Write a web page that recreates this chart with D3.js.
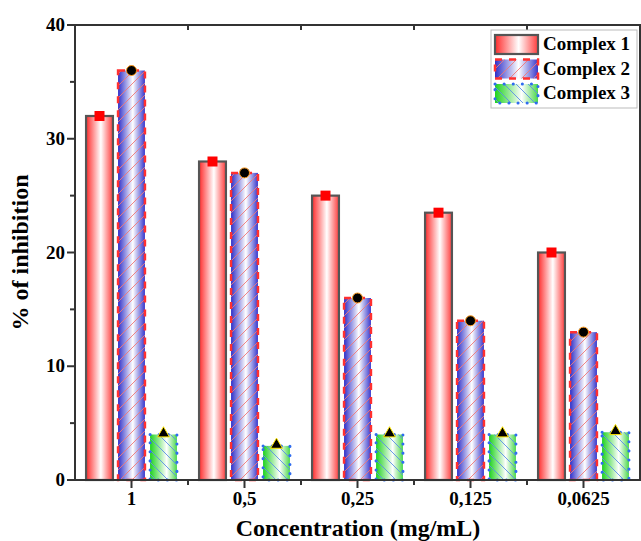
<!DOCTYPE html>
<html lang="en">
<head>
<meta charset="utf-8">
<script src="https://cdn.jsdelivr.net/npm/d3@7"></script>
<style>
  body { margin: 0; background: white; }
  svg { font-family: 'Liberation Serif', 'DejaVu Serif', serif; font-weight: bold; }
  .tick-label { font-size: 19px; }
  .axis-title { font-size: 24px; }
  .legend text { font-size: 19px; }
</style>
</head>
<body>
<svg width="641" height="541"></svg>
<script>
// data
var concentrations = ["1", "0,5", "0,25", "0,125", "0,0625"];
var seriesNames = ["Complex 1", "Complex 2", "Complex 3"];
var complex1 = [32, 28, 25, 23.5, 20];
var complex2 = [36, 27, 16, 14, 13];
var complex3 = [4, 3, 4, 4, 4.2];
var yTicks = [0, 10, 20, 30, 40];
var yMinor = [5, 15, 25, 35];

var values = [complex1, complex2, complex3];

var svg = d3.select("svg");
var mLeft = 75, mRight = 640, mTop = 25, mBottom = 480;

var x = d3.scaleBand().domain(concentrations).range([mLeft, mRight]).padding(0);
var xs = d3.scaleBand().domain(seriesNames).range([-48, 48]).paddingInner(0.16).paddingOuter(0.08);
var y = d3.scaleLinear().domain([0, 40]).range([mBottom, mTop]);

var defs = svg.append("defs");

function grad(id, stops) {
  var g = defs.append("linearGradient").attr("id", id)
    .attr("x1", "0%").attr("x2", "100%").attr("y1", "0%").attr("y2", "0%");
  stops.forEach(function(s) {
    g.append("stop").attr("offset", s[0]).attr("stop-color", s[1]);
  });
}
grad("g1", [["0%", "#ff2a2a"], ["55%", "#ffffff"], ["100%", "#ff3c3c"]]);
grad("g2", [["0%", "#2f2fc8"], ["55%", "#ffffff"], ["100%", "#3838cc"]]);
grad("g3", [["0%", "#1ed21e"], ["62%", "#ffffff"], ["100%", "#4ad84a"]]);

function hatch(id, color, dir) {
  var p = defs.append("pattern").attr("id", id)
    .attr("patternUnits", "userSpaceOnUse").attr("width", 12).attr("height", 12);
  if (dir > 0) {
    p.append("path").attr("d", "M0,12 L12,0 M-3,3 L3,-3 M9,15 L15,9");
  } else {
    p.append("path").attr("d", "M0,0 L12,12 M-3,9 L3,15 M9,-3 L15,3");
  }
  p.select("path").attr("stroke", color).attr("stroke-width", 0.9).attr("fill", "none");
}
hatch("h2", "#f07878", 1);
hatch("h3", "#5b8ee8", -1);

var fills = ["url(#g1)", "url(#g2)", "url(#g3)"];
var hatches = [null, "url(#h2)", "url(#h3)"];

function styleOutline(sel, si) {
  if (si === 0) sel.attr("stroke", "#555").attr("stroke-width", 2.2);
  if (si === 1) sel.attr("stroke", "#ff3030").attr("stroke-width", 2.5).attr("stroke-dasharray", "7,7");
  if (si === 2) sel.attr("stroke", "#2f6cf0").attr("stroke-width", 3)
    .attr("stroke-dasharray", "0.1,9").attr("stroke-linecap", "round");
}

// bars
seriesNames.forEach(function(name, si) {
  var g = svg.append("g");
  var data = concentrations.map(function(c, i) { return { c: c, v: values[si][i] }; });
  var bx = function(d) { return x(d.c) + x.bandwidth() / 2 + xs(name); };
  var layers = [fills[si]];
  if (hatches[si]) layers.push(hatches[si]);
  layers.push("none");
  layers.forEach(function(f, li) {
    var r = g.append("g").selectAll("rect").data(data).enter().append("rect")
      .attr("x", bx).attr("y", function(d) { return y(d.v); })
      .attr("width", xs.bandwidth()).attr("height", function(d) { return y(0) - y(d.v); })
      .attr("fill", f);
    if (li === layers.length - 1) styleOutline(r, si);
  });
});

// markers on top of bars
var cx = function(name) { return function(d, i) { return x(concentrations[i]) + x.bandwidth() / 2 + xs(name) + xs.bandwidth() / 2; }; };
svg.append("g").selectAll("rect").data(complex1).enter().append("rect")
  .attr("x", function(d, i) { return cx("Complex 1")(d, i) - 5; })
  .attr("y", function(d) { return y(d) - 5; })
  .attr("width", 10).attr("height", 10).attr("fill", "#ff0000");
svg.append("g").selectAll("circle").data(complex2).enter().append("circle")
  .attr("cx", cx("Complex 2")).attr("cy", function(d) { return y(d); })
  .attr("r", 5).attr("fill", "#000").attr("stroke", "#ff9a1a").attr("stroke-width", 1);
svg.append("g").selectAll("path").data(complex3).enter().append("path")
  .attr("transform", function(d, i) { return "translate(" + cx("Complex 3")(d, i) + "," + (y(d) - 1) + ")"; })
  .attr("d", d3.symbol(d3.symbolTriangle, 60))
  .attr("fill", "#000").attr("stroke", "#ffe600").attr("stroke-width", 1);

// frame + axes
var axisColor = "#333";
[[mLeft, mTop, mRight, mTop], [mLeft, mBottom, mRight, mBottom],
 [mLeft, mTop, mLeft, mBottom], [mRight, mTop, mRight, mBottom]].forEach(function(l) {
  svg.append("line").attr("x1", l[0]).attr("y1", l[1]).attr("x2", l[2]).attr("y2", l[3])
    .attr("stroke", axisColor).attr("stroke-width", 2).attr("stroke-linecap", "square");
});

// y ticks
svg.append("g").selectAll("line").data(yTicks).enter().append("line")
  .attr("x1", mLeft - 8).attr("x2", mLeft).attr("y1", y).attr("y2", y)
  .attr("stroke", axisColor).attr("stroke-width", 2);
svg.append("g").selectAll("line").data(yMinor).enter().append("line")
  .attr("x1", mLeft - 5).attr("x2", mLeft).attr("y1", y).attr("y2", y)
  .attr("stroke", axisColor).attr("stroke-width", 2);
svg.append("g").selectAll("text").data(yTicks).enter().append("text")
  .attr("class", "tick-label").attr("x", mLeft - 10).attr("y", function(d) { return y(d) + 6; })
  .attr("text-anchor", "end").text(function(d) { return d; });

// x ticks
var boundaries = concentrations.slice(1).map(function(c) { return x(c); });
svg.append("g").selectAll("line").data(concentrations).enter().append("line")
  .attr("x1", function(d) { return x(d) + x.bandwidth() / 2; })
  .attr("x2", function(d) { return x(d) + x.bandwidth() / 2; })
  .attr("y1", mBottom).attr("y2", mBottom + 8)
  .attr("stroke", axisColor).attr("stroke-width", 2);
svg.append("g").selectAll("line").data(boundaries).enter().append("line")
  .attr("x1", function(d) { return d; }).attr("x2", function(d) { return d; })
  .attr("y1", mBottom).attr("y2", mBottom + 5)
  .attr("stroke", axisColor).attr("stroke-width", 2);
svg.append("g").selectAll("line").data(boundaries).enter().append("line")
  .attr("x1", function(d) { return d; }).attr("x2", function(d) { return d; })
  .attr("y1", mTop).attr("y2", mTop + 5)
  .attr("stroke", axisColor).attr("stroke-width", 2);
svg.append("g").selectAll("text").data(concentrations).enter().append("text")
  .attr("class", "tick-label").attr("x", function(d) { return x(d) + x.bandwidth() / 2; })
  .attr("y", mBottom + 25).attr("text-anchor", "middle").text(function(d) { return d; });

// titles
svg.append("text").attr("class", "axis-title")
  .attr("x", 358).attr("y", 536).attr("text-anchor", "middle")
  .text("Concentration (mg/mL)");
svg.append("text").attr("class", "axis-title")
  .attr("transform", "translate(28," + ((mTop + mBottom) / 2) + ") rotate(-90)")
  .attr("text-anchor", "middle").text("% of inhibition");

// legend
var lg = svg.append("g").attr("class", "legend");
lg.append("rect").attr("x", 491).attr("y", 30).attr("width", 146).attr("height", 78)
  .attr("fill", "white").attr("stroke", "#bbb").attr("stroke-width", 1);
seriesNames.forEach(function(name, i) {
  var ry = 35 + i * 24.5;
  var layers = [fills[i]];
  if (hatches[i]) layers.push(hatches[i]);
  layers.push("none");
  layers.forEach(function(f, li) {
    var r = lg.append("rect").attr("x", 495).attr("y", ry).attr("width", 43).attr("height", 19).attr("fill", f);
    if (li === layers.length - 1) styleOutline(r, i);
  });
  lg.append("text").attr("x", 543).attr("y", ry + 15).text(name);
});
</script>
</body>
</html>
